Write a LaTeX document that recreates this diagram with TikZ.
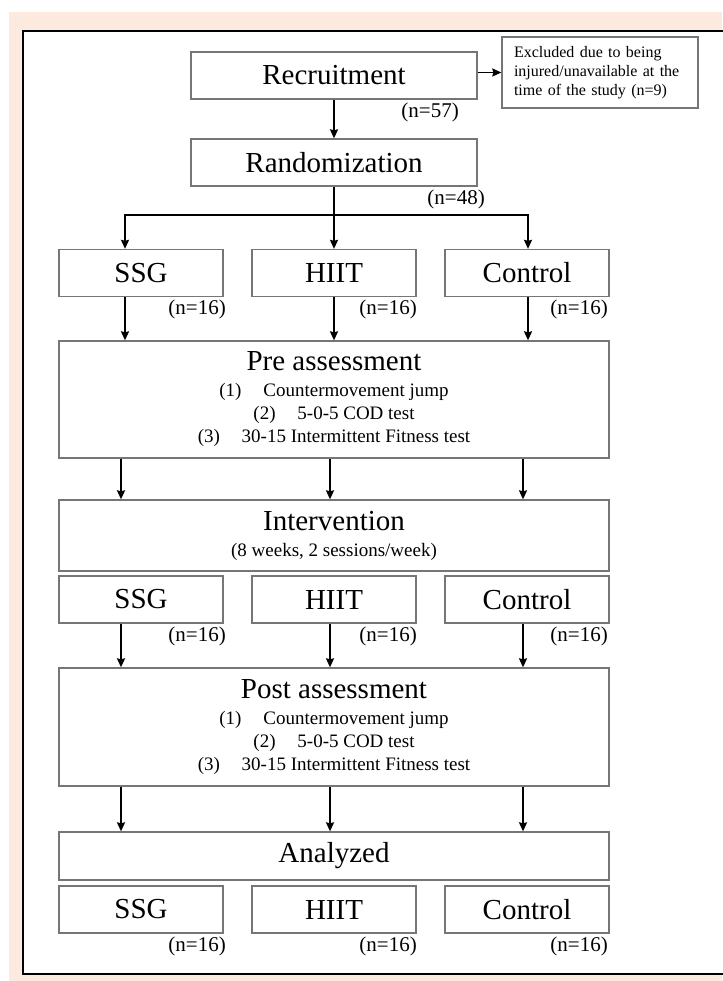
\documentclass[tikz,border=0pt]{standalone}
\usepackage{fontspec}
\setmainfont{Liberation Serif}
\usetikzlibrary{arrows.meta}
\definecolor{peach}{RGB}{251,234,221}
\definecolor{boxgray}{RGB}{118,118,118}

\begin{document}
\begin{tikzpicture}[x=1pt,y=-1pt,->,>={Stealth[length=9pt,width=8pt,inset=1pt]},
  line width=1.8pt]
  \tikzstyle{box}=[draw=boxgray,line width=1.3pt,fill=white,inner sep=0pt,
    minimum height=48pt,font=\fontsize{29}{32}\selectfont]
  \tikzstyle{grp}=[box,minimum width=164pt,minimum height=47pt]
  \tikzstyle{wide}=[box,minimum width=550pt,align=center]
  \tikzstyle{num}=[anchor=north east,inner sep=0pt,font=\fontsize{21}{24}\selectfont]
  \tikzstyle{sub}=[font=\fontsize{19}{23}\selectfont]

  % frame
  \useasboundingbox (0,0) rectangle (722,981);
  \fill[peach] (9,12) rectangle (722,981);
  \fill[white] (23,31) rectangle (740,974);
  \draw[-,line width=2.4pt,line join=miter] (740,31) -- (23,31) -- (23,974) -- (740,974);

  \node[box,minimum width=286pt,minimum height=47pt] (rec) at (334,75.5) {Recruitment};
  \node[box,minimum width=196pt,minimum height=71pt,align=left,text width=172pt,
    font=\fontsize{16}{19}\selectfont] (exc) at (600,72.5)
    {Excluded due to being\\injured/unavailable at the\\time of the study (n=9)};
  \node[box,minimum width=286pt,minimum height=47pt] (rand) at (334,162.5) {Randomization};

  \node[grp] (ssg1)  at (141,273) {SSG};
  \node[grp] (hiit1) at (334,273) {HIIT};
  \node[grp] (ctrl1) at (527,273) {Control};

  \node[wide,sub,minimum height=117pt] (pre) at (334,399.5)
    {{\fontsize{29}{32}\selectfont Pre assessment}\\[3pt]
     (1)\hspace{1.15em}Countermovement jump\\
     (2)\hspace{1.15em}5-0-5 COD test\\
     (3)\hspace{1.15em}30-15 Intermittent Fitness test};

  \node[wide,sub,minimum height=71pt] (int) at (334,535.5)
    {{\fontsize{29}{32}\selectfont Intervention}\\[3pt]
     (8 weeks, 2 sessions/week)};

  \node[grp] (ssg2)  at (141,599.5) {SSG};
  \node[grp] (hiit2) at (334,599.5) {HIIT};
  \node[grp] (ctrl2) at (527,599.5) {Control};

  \node[wide,sub,minimum height=118pt] (post) at (334,727)
    {{\fontsize{29}{32}\selectfont Post assessment}\\[3pt]
     (1)\hspace{1.15em}Countermovement jump\\
     (2)\hspace{1.15em}5-0-5 COD test\\
     (3)\hspace{1.15em}30-15 Intermittent Fitness test};

  \node[wide] (ana) at (334,856) {Analyzed};

  \node[grp] (ssg3)  at (141,909.5) {SSG};
  \node[grp] (hiit3) at (334,909.5) {HIIT};
  \node[grp] (ctrl3) at (527,909.5) {Control};

  % sample sizes
  \node[num] (n57) at ([xshift=-18pt,yshift=-2pt]rec.south east) {(n=57)};
  \node[num] (n48) at ([xshift=8pt,yshift=-2pt]rand.south east) {(n=48)};
  \node[num] (ns1) at ([xshift=3pt,yshift=-2pt]ssg1.south east) {(n=16)};
  \node[num] (nh1) at ([xshift=1pt,yshift=-2pt]hiit1.south east) {(n=16)};
  \node[num] (nc1) at ([xshift=-1pt,yshift=-2pt]ctrl1.south east) {(n=16)};
  \node[num] (ns2) at ([xshift=3pt,yshift=-2pt]ssg2.south east) {(n=16)};
  \node[num] (nh2) at ([xshift=1pt,yshift=-2pt]hiit2.south east) {(n=16)};
  \node[num] (nc2) at ([xshift=-1pt,yshift=-2pt]ctrl2.south east) {(n=16)};
  \node[num] (ns3) at ([xshift=3pt,yshift=-2pt]ssg3.south east) {(n=16)};
  \node[num] (nh3) at ([xshift=1pt,yshift=-2pt]hiit3.south east) {(n=16)};
  \node[num] (nc3) at ([xshift=-1pt,yshift=-2pt]ctrl3.south east) {(n=16)};

  % connectors
  \coordinate (brA) at (125,215);
  \coordinate (brB) at (334,215);
  \coordinate (brC) at (528,215);
  \coordinate (colA) at (121,0);
  \coordinate (colB) at (330,0);
  \coordinate (colC) at (523,0);

  \draw (exc.west -| rec.east) -- (exc.west);
  \draw (rec) -- (rand);
  \draw (rand) -- (hiit1);
  \draw[<->] (ssg1.north -| brA) -- (brA) -- (brC) -- (ctrl1.north -| brC);

  \draw (ssg1.south -| brA)  -- (pre.north -| brA);
  \draw (hiit1.south -| brB) -- (pre.north -| brB);
  \draw (ctrl1.south -| brC) -- (pre.north -| brC);

  \draw (pre.south -| colA) -- (int.north -| colA);
  \draw (pre.south -| colB) -- (int.north -| colB);
  \draw (pre.south -| colC) -- (int.north -| colC);

  \draw (ssg2.south -| colA)  -- (post.north -| colA);
  \draw (hiit2.south -| colB) -- (post.north -| colB);
  \draw (ctrl2.south -| colC) -- (post.north -| colC);

  \draw (post.south -| colA) -- (ana.north -| colA);
  \draw (post.south -| colB) -- (ana.north -| colB);
  \draw (post.south -| colC) -- (ana.north -| colC);
\end{tikzpicture}
\end{document}
